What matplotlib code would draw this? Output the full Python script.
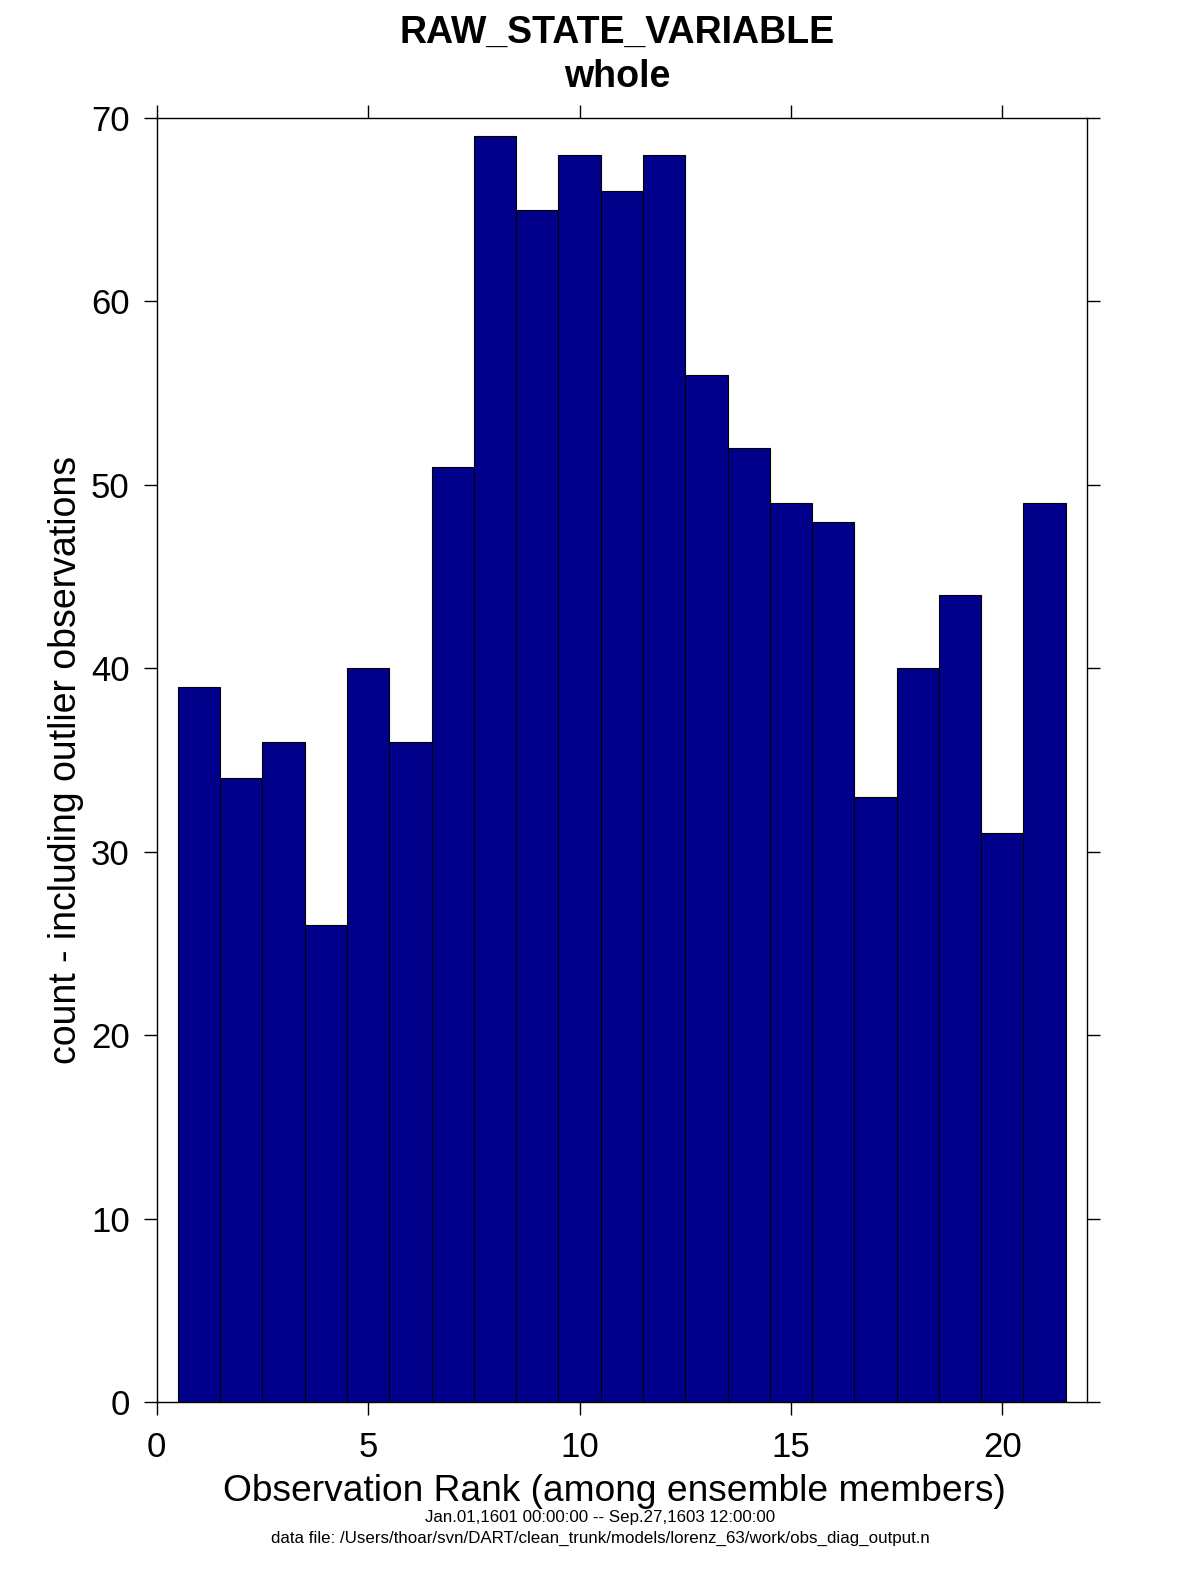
import numpy as np
import matplotlib
matplotlib.use("Agg")
import matplotlib.pyplot as plt

plt.rcParams['font.family'] = ['Liberation Sans', 'DejaVu Sans']

# rank histogram counts, one bar per rank
ranks = np.arange(1, 22)
counts = [39, 34, 36, 26, 40, 36, 51, 69, 65, 68, 66, 68, 56, 52, 49, 48, 33, 40, 44, 31, 49]

xticks = [0, 5, 10, 15, 20]
yticks = [0, 10, 20, 30, 40, 50, 60, 70]

title_main = "RAW_STATE_VARIABLE"
title_sub = "whole"
xlabel = "Observation Rank (among ensemble members)"
ylabel = "count - including outlier observations"
footer_time = "Jan.01,1601 00:00:00 -- Sep.27,1603 12:00:00"
footer_file = "data file: /Users/thoar/svn/DART/clean_trunk/models/lorenz_63/work/obs_diag_output.n"

fig = plt.figure(figsize=(12.01, 15.75), dpi=100)
ax = fig.add_axes([0.1305, 0.1098, 0.7745, 0.8153])

ax.bar(ranks, counts, width=1.0, color='#00008B', edgecolor='black', linewidth=0.8)

ax.set_xlim(0, 22)
ax.set_ylim(0, 70)
ax.set_xticks(xticks)
ax.set_yticks(yticks)
ax.tick_params(direction='out', length=9.5, width=1, labelsize=25,
               top=True, right=True, pad=10)
ax.tick_params(axis='x', pad=11)
for s in ax.spines.values():
    s.set_linewidth(1)

ax.set_ylabel(ylabel, fontsize=27, labelpad=5)
ax.set_xlabel(xlabel, fontsize=26.7)
ax.xaxis.set_label_coords(0.492, -0.056)
ax.xaxis.label.set_va('top')

fig.text(0.514, 1 - 43 / 1575, title_main, ha='center', va='baseline',
         fontsize=27, fontweight='bold')
fig.text(0.514, 1 - 87 / 1575, title_sub, ha='center', va='baseline',
         fontsize=27, fontweight='bold')

fig.text(0.5, 1 - 1522 / 1575, footer_time, ha='center', va='baseline', fontsize=12.2)
fig.text(0.5, 1 - 1543 / 1575, footer_file, ha='center', va='baseline', fontsize=12.2)

fig.savefig("out.png", dpi=100)
